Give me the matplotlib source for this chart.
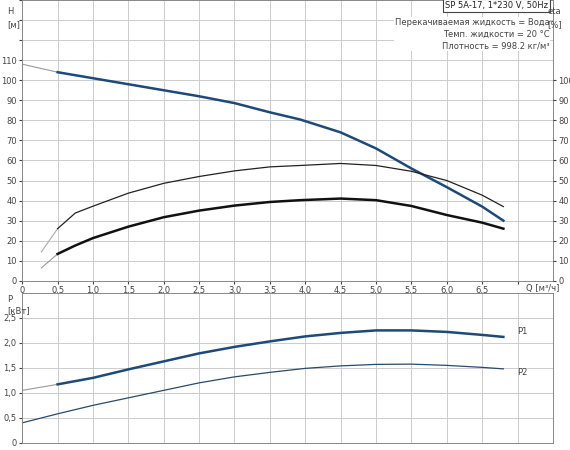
import matplotlib
matplotlib.use("Agg")
import matplotlib.pyplot as plt

q_h = [0.0, 0.5, 1.0, 1.5, 2.0, 2.5, 3.0, 3.5, 3.93, 4.5, 5.0, 5.5, 6.0, 6.5, 6.8]
h = [108, 104, 101, 98, 95, 92, 88.6, 84, 80.4, 74, 66, 56, 46.7, 37, 30]

q_e = [0.27, 0.5, 0.75, 1.0, 1.5, 2.0, 2.5, 3.0, 3.5, 3.93, 4.5, 5.0, 5.5, 6.0, 6.5, 6.8]
eta_pump = [14.4, 26, 33.8, 37.2, 43.7, 48.6, 52, 54.8, 56.8, 57.5, 58.5, 57.5, 54.6, 50, 42.7, 37]
eta_tot = [6.4, 13.4, 17.6, 21.3, 27, 31.7, 35, 37.5, 39.3, 40.2, 41, 40.2, 37.3, 32.8, 29, 26]

q_p = [0.0, 0.5, 1.0, 1.5, 2.0, 2.5, 3.0, 3.5, 4.0, 4.5, 5.0, 5.5, 6.0, 6.5, 6.8]
p1 = [1.05, 1.17, 1.3, 1.47, 1.63, 1.79, 1.92, 2.03, 2.13, 2.2, 2.25, 2.25, 2.22, 2.16, 2.12]
p2 = [0.4, 0.58, 0.75, 0.9, 1.05, 1.2, 1.32, 1.41, 1.49, 1.54, 1.57, 1.575, 1.55, 1.51, 1.48]

xticks = [0, 0.5, 1.0, 1.5, 2.0, 2.5, 3.0, 3.5, 4.0, 4.5, 5.0, 5.5, 6.0, 6.5]
xlabels = ["0", "0,5", "1,0", "1,5", "2,0", "2,5", "3,0", "3,5", "4,0", "4,5", "5,0", "5,5", "6,0", "6,5"]

BLUE = "#1d4a78"
GRID = "#cccccc"
TC = "#444444"
plt.rcParams["font.family"] = ["DejaVu Sans"]

fig = plt.figure(figsize=(5.7, 4.5), dpi=100)
ax = fig.add_axes([0.039, 0.376, 0.931, 0.624])
bx = fig.add_axes([0.039, 0.016, 0.931, 0.333])

def split(q, v, lim=0.5):
    i = next(k for k, x in enumerate(q) if x >= lim)
    return q[:i + 1], v[:i + 1], q[i:], v[i:]

for a in (ax, bx):
    a.set_xlim(0, 7.5)
    a.set_xticks(xticks + [7.0])
    a.grid(True, color=GRID, lw=0.7)
    a.tick_params(labelsize=6, colors=TC, length=2, pad=2)
    for s in a.spines.values():
        s.set_color("#888888")
        s.set_linewidth(0.7)
    a.set_axisbelow(True)

ax.set_ylim(0, 140)
ax.set_yticks(range(0, 150, 10))
ax.set_yticklabels([str(v) if v <= 110 else "" for v in range(0, 150, 10)])
ax.set_xticklabels(xlabels + [""])
ax.text(7.35, -1.5, "Q [м³/ч]", fontsize=6, color=TC, ha="center", va="top")
ax2 = ax.twinx()
ax2.set_ylim(0, 140)
ax2.set_yticks(range(0, 110, 10))
ax2.tick_params(labelsize=6, colors=TC, length=2, pad=2)
for s in ax2.spines.values():
    s.set_visible(False)

a1, b1, a2, b2 = split(q_h, h)
ax.plot(a1, b1, color="#999999", lw=0.8)
ax.plot(a2, b2, color=BLUE, lw=1.8)
a1, b1, a2, b2 = split(q_e, eta_pump)
ax.plot(a1, b1, color="#aaaaaa", lw=0.8)
ax.plot(a2, b2, color="#222222", lw=0.9)
a1, b1, a2, b2 = split(q_e, eta_tot)
ax.plot(a1, b1, color="#999999", lw=0.8)
ax.plot(a2, b2, color="#111111", lw=1.8)

fig.text(0.012, 0.985, "H\n[м]", fontsize=6, color=TC, ha="left", va="top", linespacing=1.6)
fig.text(0.985, 0.985, "eta\n[%]", fontsize=6, color=TC, ha="right", va="top", linespacing=1.6)
ax.text(7.43, 139.5, "SP 5A-17, 1*230 V, 50Hz", fontsize=6, color="#222222", ha="right", va="top",
        bbox=dict(boxstyle="square,pad=0.25", fc="white", ec="#444444", lw=0.8))
ax.text(7.45, 131, "Перекачиваемая жидкость = Вода\nТемп. жидкости = 20 °C\nПлотность = 998.2 кг/м³",
        fontsize=6, color=TC, ha="right", va="top", linespacing=1.4,
        bbox=dict(boxstyle="square,pad=0.1", fc="white", ec="none"))

bx.set_ylim(0, 3.0)
bx.set_yticks([0, 0.5, 1.0, 1.5, 2.0, 2.5])
bx.set_yticklabels(["0", "0,5", "1,0", "1,5", "2,0", "2,5"])
bx.set_xticklabels([])
bx.tick_params(axis="x", length=0)
a1, b1, a2, b2 = split(q_p, p1)
bx.plot(a1, b1, color="#999999", lw=0.8)
bx.plot(a2, b2, color=BLUE, lw=1.8)
bx.plot(q_p, p2, color="#2a4a6a", lw=0.9)
bx.text(7.0, p1[-1] + 0.1, "P1", fontsize=6, color=TC, va="center")
bx.text(7.0, p2[-1] - 0.07, "P2", fontsize=6, color=TC, va="center")
fig.text(0.012, 0.345, "P\n[кВт]", fontsize=6, color=TC, ha="left", va="top", linespacing=1.3)

fig.savefig("out.png", dpi=100)
